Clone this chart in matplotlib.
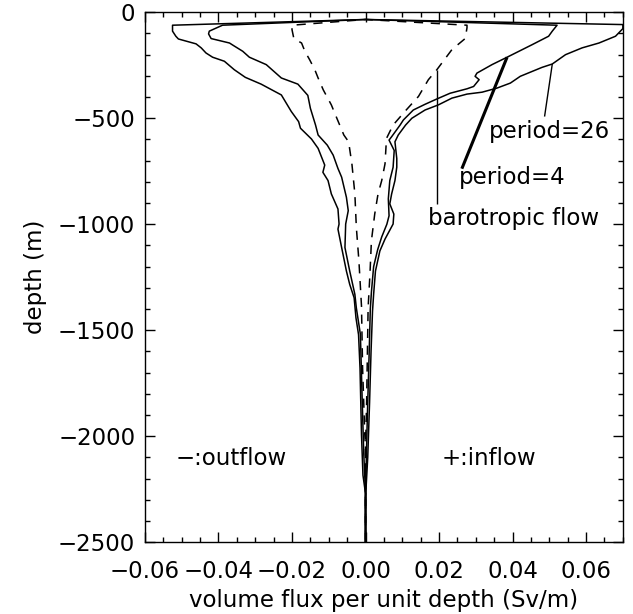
import matplotlib
matplotlib.use("Agg")
import matplotlib.pyplot as plt
from matplotlib.ticker import MultipleLocator, FuncFormatter

# surface point where every profile meets (flux, depth)
SURFACE_FLUX = 0.0
SURFACE_DEPTH = -34

# period=26, outflow (negative) and inflow (positive), top -> bottom
p26_out_depth = [-61, -89, -113, -126, -149, -168, -192, -212, -231, -271, -307, -339,
                 -390, -468, -516, -547, -598, -642, -721, -755, -794, -857, -928, -999,
                 -1023, -1110, -1221, -1284, -1347, -1442, -1521, -1679, -1993, -2184,
                 -2271, -2500]
p26_out_flux = [-0.0525, -0.0525, -0.0516, -0.0509, -0.0461, -0.0447, -0.0434, -0.0416,
                -0.0384, -0.0357, -0.0327, -0.0284, -0.0229, -0.0202, -0.0182, -0.0177,
                -0.0147, -0.0129, -0.0111, -0.0116, -0.0102, -0.0093, -0.0075, -0.0072,
                -0.0075, -0.0065, -0.0052, -0.0043, -0.0031, -0.0026, -0.0019, -0.0015,
                -0.0011, -0.0007, 0.0, 0.0]
p26_in_depth = [-58, -77, -113, -145, -168, -200, -244, -260, -302, -334, -358, -377,
                -386, -405, -437, -461, -500, -532, -579, -611, -690, -731, -794, -857,
                -904, -952, -999, -1070, -1126, -1221, -1331, -1410, -1600, -1840, -2100,
                -2290, -2500]
p26_in_flux = [0.0700, 0.0700, 0.0680, 0.0635, 0.0589, 0.0544, 0.0508, 0.0480, 0.0421,
               0.0394, 0.0357, 0.0317, 0.0276, 0.0235, 0.0198, 0.0162, 0.0126, 0.0109,
               0.0089, 0.0080, 0.0085, 0.0085, 0.0080, 0.0071, 0.0066, 0.0077, 0.0075,
               0.0053, 0.0039, 0.0027, 0.0022, 0.0019, 0.0015, 0.0011, 0.0006, 0.0, 0.0]

# period=4
p4_out_depth = [-61, -89, -102, -124, -145, -155, -184, -212, -247, -310, -339, -392,
                -453, -532, -579, -627, -674, -737, -778, -873, -936, -999, -1110, -1221,
                -1331, -1395, -1519, -1837, -2074, -2273, -2500]
p4_out_flux = [-0.0389, -0.0425, -0.0427, -0.0420, -0.0370, -0.0361, -0.0334, -0.0316,
               -0.0270, -0.0229, -0.0184, -0.0157, -0.0150, -0.0136, -0.0129, -0.0104,
               -0.0088, -0.0075, -0.0065, -0.0052, -0.0047, -0.0054, -0.0056, -0.0043,
               -0.0029, -0.0025, -0.0014, -0.0009, -0.0005, 0.0, 0.0]
p4_in_depth = [-61, -89, -113, -153, -212, -247, -287, -302, -318, -350, -361, -382,
               -409, -434, -461, -508, -532, -587, -603, -652, -731, -794, -880, -960,
               -1000, -1060, -1120, -1200, -1320, -1400, -1600, -1900, -2270, -2500]
p4_in_flux = [0.0521, 0.0508, 0.0498, 0.0453, 0.0385, 0.0344, 0.0303, 0.0298, 0.0309,
              0.0294, 0.0276, 0.0230, 0.0194, 0.0162, 0.0130, 0.0103, 0.0094, 0.0071,
              0.0064, 0.0078, 0.0075, 0.0066, 0.0062, 0.0064, 0.0058, 0.0044, 0.0033,
              0.0022, 0.0016, 0.0013, 0.0010, 0.0005, 0.0, 0.0]

# barotropic flow (dashed)
baro_out_depth = [-61, -82, -124, -145, -184, -224, -271, -310, -366, -437, -500, -579,
                  -611, -682, -699, -857, -1015, -1173, -1386, -1679, -1993, -2058, -2500]
baro_out_flux = [-0.0200, -0.0200, -0.0195, -0.0174, -0.0165, -0.0152, -0.0138, -0.0129,
                 -0.0115, -0.0093, -0.0078, -0.0059, -0.0046, -0.0040, -0.0038, -0.0029,
                 -0.0025, -0.0018, -0.0011, -0.0008, -0.0002, 0.0, 0.0]
baro_in_depth = [-61, -73, -124, -176, -271, -318, -397, -468, -532, -595, -715, -794,
                 -857, -952, -1078, -1236, -1395, -1837, -2058, -2500]
baro_in_flux = [0.0276, 0.0276, 0.0271, 0.0235, 0.0194, 0.0171, 0.0144, 0.0107, 0.0075,
                0.0057, 0.0053, 0.0044, 0.0034, 0.0025, 0.0016, 0.0012, 0.0007, 0.0003,
                0.0, 0.0]

# labels: (text, flux, depth) and leader lines ((flux0, depth0), (flux1, depth1))
labels = [("period=26", 0.0336, -563), ("period=4", 0.0253, -778),
          ("barotropic flow", 0.0171, -975)]
leader_26 = [(0.0508, -244), (0.0487, -492)]
leader_4 = [(0.0385, -212), (0.0262, -738)]
leader_baro = [(0.0194, -271), (0.0194, -903)]

_FONT = 16.5


def _profile(out_depth, out_flux, in_depth, in_flux):
    x = out_flux[::-1] + [SURFACE_FLUX] + in_flux
    y = out_depth[::-1] + [SURFACE_DEPTH] + in_depth
    return x, y


def _xfmt(v, pos):
    return ("%.2f" % v).replace("-", "\u2212")


plt.rcParams['font.family'] = 'DejaVu Sans'
fig = plt.figure(figsize=(6.33, 6.14), dpi=100)
ax = fig.add_axes([0.229, 0.117, 0.755, 0.863])

lw = 1.1
x, y = _profile(p26_out_depth, p26_out_flux, p26_in_depth, p26_in_flux)
ax.plot(x, y, color='black', lw=lw)
x, y = _profile(p4_out_depth, p4_out_flux, p4_in_depth, p4_in_flux)
ax.plot(x, y, color='black', lw=lw)
x, y = _profile(baro_out_depth, baro_out_flux, baro_in_depth, baro_in_flux)
ax.plot(x, y, color='black', lw=lw, linestyle=(0, (6, 5)))

for seg, w in ((leader_26, 1.0), (leader_4, 2.2), (leader_baro, 1.0)):
    ax.plot([p[0] for p in seg], [p[1] for p in seg], color='black', lw=w,
            solid_capstyle='butt')

for text, fx, dy in labels:
    ax.text(fx, dy, text, fontsize=_FONT, ha='left', va='center')
ax.text(-0.0516, -2105, "\u2212:outflow", fontsize=_FONT, ha='left', va='center')
ax.text(0.0207, -2105, "+:inflow", fontsize=_FONT, ha='left', va='center')

ax.set_xlim(-0.06, 0.07)
ax.set_ylim(-2500, 0)
ax.xaxis.set_major_locator(MultipleLocator(0.02))
ax.xaxis.set_minor_locator(MultipleLocator(0.005))
ax.xaxis.set_major_formatter(FuncFormatter(_xfmt))
ax.yaxis.set_major_locator(MultipleLocator(500))
ax.yaxis.set_minor_locator(MultipleLocator(100))

ax.tick_params(which='both', direction='in', top=True, right=True, width=1.0,
               labelsize=_FONT)
ax.tick_params(which='major', length=7.2)
ax.tick_params(which='minor', length=3.6)
ax.tick_params(axis='x', pad=13)
ax.tick_params(axis='y', pad=7)
for sp in ax.spines.values():
    sp.set_linewidth(1.0)

ax.set_xlabel("volume flux per unit depth (Sv/m)", fontsize=_FONT, labelpad=4)
ax.set_ylabel("depth (m)", fontsize=_FONT, labelpad=8)

plt.savefig("out.png", dpi=100)
